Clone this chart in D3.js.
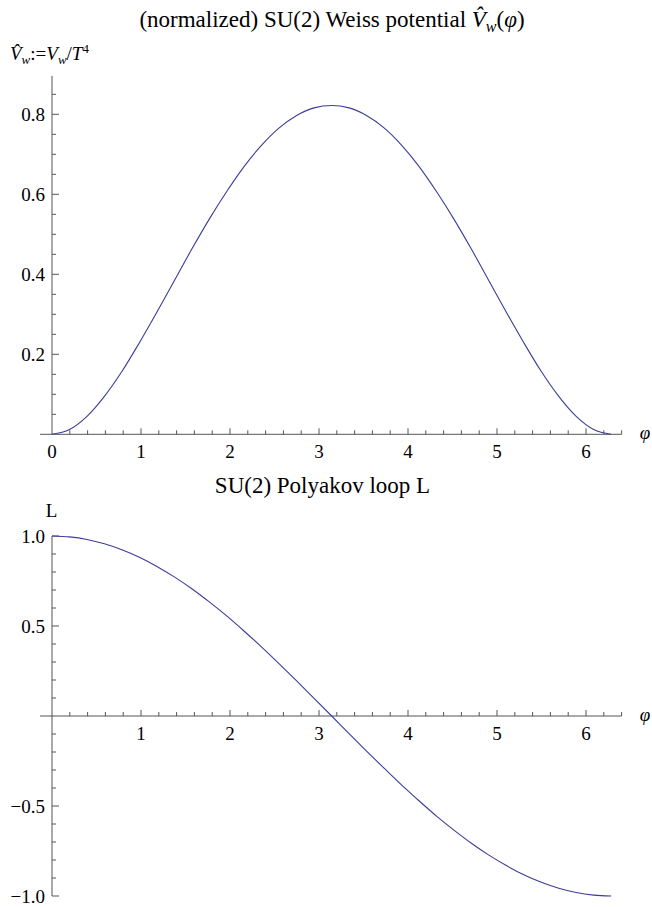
<!DOCTYPE html>
<html>
<head>
<meta charset="utf-8">
<script src="https://cdn.jsdelivr.net/npm/d3@7"></script>
<style>
  body { margin: 0; background: #fff; }
</style>
</head>
<body>
<svg id="chart" width="652" height="907"></svg>
<script>
// phi sample points (0 .. 2pi)
let phi = [0, 0.196, 0.393, 0.589, 0.785, 0.982, 1.178, 1.374, 1.571, 1.767, 1.963, 2.160,
  2.356, 2.553, 2.749, 2.945, 3.142, 3.338, 3.534, 3.731, 3.927, 4.123, 4.320, 4.516,
  4.712, 4.909, 5.105, 5.301, 5.498, 5.694, 5.890, 6.087, 6.283];

// normalized Weiss potential
let weiss = [0, 0.012, 0.045, 0.095, 0.157, 0.229, 0.305, 0.384, 0.463, 0.538, 0.607, 0.670,
  0.723, 0.766, 0.797, 0.816, 0.822, 0.816, 0.797, 0.766, 0.723, 0.670, 0.607, 0.538,
  0.463, 0.384, 0.305, 0.229, 0.157, 0.095, 0.045, 0.012, 0];

// Polyakov loop
let polyakov = [1, 0.995, 0.981, 0.957, 0.924, 0.882, 0.831, 0.773, 0.707, 0.634, 0.556, 0.471,
  0.383, 0.290, 0.195, 0.098, 0, -0.098, -0.195, -0.290, -0.383, -0.471, -0.556, -0.634,
  -0.707, -0.773, -0.831, -0.882, -0.924, -0.957, -0.981, -0.995, -1];

let xTicks = [0, 1, 2, 3, 4, 5, 6];
let topYTicks = [0.2, 0.4, 0.6, 0.8];
let botYTicks = [-1.0, -0.5, 0.5, 1.0];

const svg = d3.select('#chart');
const axisCol = '#555';
const lineCol = '#3d3d99';
const FONT = "'Liberation Serif'";
const TICK_FS = 19;
const TITLE_FS = 23;

let x = d3.scaleLinear().domain([0, 6]).range([52, 586]);
let xMin = -0.135, xMax = 6.4;

function minorRange(a, b, step) {
  let out = [];
  let n = Math.round((b - a) / step);
  for (let i = 0; i <= n; i++) out.push(+(a + i * step).toFixed(4));
  return out;
}

function txt(sel) {
  return sel.append('text').style('font-family', FONT).style('fill', '#000');
}

function drawPanel(cfg) {
  let y = cfg.y;
  let g = svg.append('g');
  let y0 = y(0);

  // x axis line
  g.append('line')
    .attr('x1', x(xMin)).attr('x2', x(xMax))
    .attr('y1', y0).attr('y2', y0)
    .attr('stroke', axisCol).attr('stroke-width', 1);

  // x ticks (point up)
  let xt = minorRange(0, 6.4, 0.2).filter(v => v > 0);
  g.selectAll('.xt').data(xt).enter().append('line')
    .attr('x1', d => x(d)).attr('x2', d => x(d))
    .attr('y1', y0)
    .attr('y2', d => Math.abs(d - Math.round(d)) < 1e-6 ? y0 - 6 : y0 - 4)
    .attr('stroke', axisCol).attr('stroke-width', 1);

  g.selectAll('.xl').data(cfg.xLabels).enter().append('text')
    .style('font-family', FONT)
    .attr('x', d => x(d))
    .attr('y', y0 + 23.5)
    .attr('text-anchor', 'middle')
    .attr('font-size', TICK_FS)
    .text(d => d);

  // phi label
  txt(g)
    .attr('x', 645).attr('y', y0 + 5)
    .attr('text-anchor', 'middle')
    .attr('font-size', TICK_FS)
    .attr('font-style', 'italic')
    .text('\u03C6');

  // y axis line
  g.append('line')
    .attr('x1', x(0)).attr('x2', x(0))
    .attr('y1', y(cfg.yTop)).attr('y2', y(cfg.yBottom))
    .attr('stroke', axisCol).attr('stroke-width', 1);

  g.selectAll('.yt').data(cfg.yMinor).enter().append('line')
    .attr('x1', x(0))
    .attr('x2', d => cfg.yMajor.some(m => Math.abs(m - d) < 1e-6) ? x(0) + 7 : x(0) + 4)
    .attr('y1', d => y(d)).attr('y2', d => y(d))
    .attr('stroke', axisCol).attr('stroke-width', 1);

  g.selectAll('.yl').data(cfg.yLabels).enter().append('text')
    .style('font-family', FONT)
    .attr('x', x(0) - 7)
    .attr('y', d => y(d) + 6.5)
    .attr('text-anchor', 'end')
    .attr('font-size', TICK_FS)
    .text(d => (d < 0 ? '\u2212' : '') + Math.abs(d).toFixed(1));

  // curve
  let line = d3.line()
    .x((d, i) => x(phi[i]))
    .y(d => y(d))
    .curve(d3.curveMonotoneX);

  g.append('path')
    .datum(cfg.values)
    .attr('d', line)
    .attr('fill', 'none')
    .attr('stroke', lineCol)
    .attr('stroke-width', 1.1);
}

// top panel
let yTop = d3.scaleLinear().domain([0, 0.8]).range([434.3, 114.3]);
drawPanel({
  y: yTop,
  yTop: 0.896, yBottom: 0,
  yMinor: minorRange(0.05, 0.85, 0.05),
  yMajor: topYTicks,
  yLabels: topYTicks,
  xLabels: xTicks,
  values: weiss
});

// bottom panel
let yBot = d3.scaleLinear().domain([-1, 1]).range([896, 536]);
drawPanel({
  y: yBot,
  yTop: 1, yBottom: -1,
  yMinor: minorRange(-1, 1, 0.1).filter(v => Math.abs(v) > 1e-6),
  yMajor: botYTicks,
  yLabels: botYTicks,
  xLabels: xTicks.filter(v => v > 0),
  values: polyakov
});

// titles
let t1 = txt(svg)
  .attr('x', 332).attr('y', 27)
  .attr('text-anchor', 'middle')
  .attr('font-size', TITLE_FS);
t1.append('tspan').text('(normalized) SU(2) Weiss potential ');
t1.append('tspan').attr('font-style', 'italic').text('V\u0302');
t1.append('tspan').attr('font-style', 'italic').attr('font-size', 16).attr('dy', 5).text('w');
t1.append('tspan').attr('dy', -5).text('(');
t1.append('tspan').attr('font-style', 'italic').text('\u03C6');
t1.append('tspan').text(')');

let yl = txt(svg)
  .attr('x', 10).attr('y', 60)
  .attr('font-size', TICK_FS);
yl.append('tspan').attr('font-style', 'italic').text('V\u0302');
yl.append('tspan').attr('font-style', 'italic').attr('font-size', 13).attr('dy', 4).text('w');
yl.append('tspan').attr('dy', -4).text(':=');
yl.append('tspan').attr('font-style', 'italic').text('V');
yl.append('tspan').attr('font-style', 'italic').attr('font-size', 13).attr('dy', 4).text('w');
yl.append('tspan').attr('dy', -4).text('/');
yl.append('tspan').attr('font-style', 'italic').text('T');
yl.append('tspan').attr('font-size', 13).attr('dy', -7).text('4');

txt(svg)
  .attr('x', 322.5).attr('y', 493)
  .attr('text-anchor', 'middle')
  .attr('font-size', TITLE_FS)
  .text('SU(2) Polyakov loop L');

txt(svg)
  .attr('x', 51.5).attr('y', 517)
  .attr('text-anchor', 'middle')
  .attr('font-size', TICK_FS)
  .text('L');
</script>
</body>
</html>
